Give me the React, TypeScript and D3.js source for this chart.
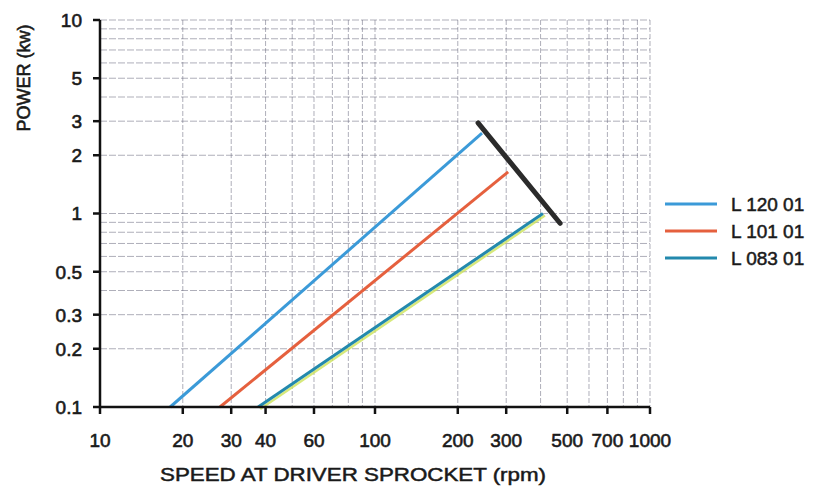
import React from "react";
import * as d3 from "d3";

const xTickValues = [10, 20, 30, 40, 60, 100, 200, 300, 500, 700, 1000];
const yTickValues = [0.1, 0.2, 0.3, 0.5, 1, 2, 3, 5, 10];
const xGridValues = [20, 30, 40, 50, 60, 70, 80, 90, 100, 200, 300, 400, 500, 600, 700, 800, 900, 1000];
const yGridValues = [0.2, 0.3, 0.4, 0.5, 0.6, 0.7, 0.8, 0.9, 1, 2, 3, 4, 5, 6, 7, 8, 9, 10];

const seriesNames = ["L 120 01", "L 101 01", "L 083 01"];
const seriesColors = ["#3b9ad8", "#e5603e", "#2389ad"];
const seriesRpm = [
  [18, 245],
  [27.3, 305],
  [37.6, 408],
];
const seriesKw = [
  [0.1, 2.6],
  [0.1, 1.64],
  [0.1, 1.0],
];
const limitRpm = [237, 471];
const limitKw = [2.94, 0.89];

const W = 815;
const H = 491;
const left = 100;
const right = 650;
const top = 20;
const bottom = 407;

export default function App() {
  const x = d3.scaleLog().domain([10, 1000]).range([left, right]);
  const y = d3.scaleLog().domain([0.1, 10]).range([bottom, top]);
  const line = d3
    .line<[number, number]>()
    .x((d) => x(d[0]))
    .y((d) => y(d[1]));

  const font = "'Liberation Sans', Arial, sans-serif";
  const legendY = [204, 231, 258];
  const ink = "#1a1a1a";

  return (
    <svg
      width={W}
      height={H}
      style={{ position: "absolute", left: 0, top: 0, background: "#fff" }}
      fontFamily={font}
    >
      {/* grid */}
      <g stroke="#5f5f75" strokeOpacity={0.5} strokeWidth={1}>
        {yGridValues.map((v) => (
          <line key={"h" + v} x1={left} x2={right} y1={y(v)} y2={y(v)} strokeDasharray="7 2" />
        ))}
        {xGridValues.map((v) => (
          <line key={"v" + v} x1={x(v)} x2={x(v)} y1={top} y2={bottom} strokeDasharray="5 2" />
        ))}
      </g>

      {/* series */}
      {seriesNames.map((n, i) => {
        const pts = seriesRpm[i].map((r, j) => [r, seriesKw[i][j]] as [number, number]);
        return (
          <g key={n}>
            {i === 2 && (
              <path
                d={line(pts) || ""}
                transform="translate(2,2)"
                fill="none"
                stroke="#cde35a"
                strokeWidth={2.5}
                opacity={0.8}
              />
            )}
            <path d={line(pts) || ""} fill="none" stroke={seriesColors[i]} strokeWidth={3} />
          </g>
        );
      })}

      {/* limit line */}
      <path
        d={line(limitRpm.map((r, j) => [r, limitKw[j]] as [number, number])) || ""}
        fill="none"
        stroke="#2b2b2b"
        strokeWidth={5}
        strokeLinecap="round"
      />

      {/* axes */}
      <line x1={left} x2={left} y1={top} y2={bottom + 1} stroke="#111" strokeWidth={2.5} />
      <line x1={left - 1} x2={right} y1={bottom} y2={bottom} stroke="#111" strokeWidth={2.5} />
      {yTickValues.map((v) => (
        <g key={"yt" + v}>
          <line x1={left - 7} x2={left} y1={y(v)} y2={y(v)} stroke="#111" strokeWidth={2.5} />
          <text
            x={82}
            y={y(v)}
            dy="0.36em"
            textAnchor="end"
            fontSize={19}
            fill={ink}
            stroke={ink}
            strokeWidth={0.6}
          >
            {v}
          </text>
        </g>
      ))}
      {xTickValues.map((v) => (
        <g key={"xt" + v}>
          <line x1={x(v)} x2={x(v)} y1={bottom} y2={bottom + 7} stroke="#111" strokeWidth={2.5} />
          <text
            x={x(v)}
            y={447}
            textAnchor="middle"
            fontSize={19}
            fill={ink}
            stroke={ink}
            strokeWidth={0.6}
          >
            {v}
          </text>
        </g>
      ))}

      {/* axis titles */}
      <text
        x={160}
        y={481}
        fontSize={19}
        textLength={386}
        lengthAdjust="spacingAndGlyphs"
        fill={ink}
        stroke={ink}
        strokeWidth={0.5}
      >
        SPEED AT DRIVER SPROCKET (rpm)
      </text>
      <text
        transform={`translate(30,78) rotate(-90)`}
        textAnchor="middle"
        fontSize={18}
        fill={ink}
        stroke={ink}
        strokeWidth={0.6}
      >
        POWER (kw)
      </text>

      {/* legend */}
      {seriesNames.map((n, i) => (
        <g key={"lg" + n}>
          <line
            x1={665}
            x2={717}
            y1={legendY[i]}
            y2={legendY[i]}
            stroke={seriesColors[i]}
            strokeWidth={3}
          />
          <text
            x={731}
            y={legendY[i]}
            dy="0.36em"
            fontSize={19}
            fill={ink}
            stroke={ink}
            strokeWidth={0.5}
          >
            {n}
          </text>
        </g>
      ))}
    </svg>
  );
}
